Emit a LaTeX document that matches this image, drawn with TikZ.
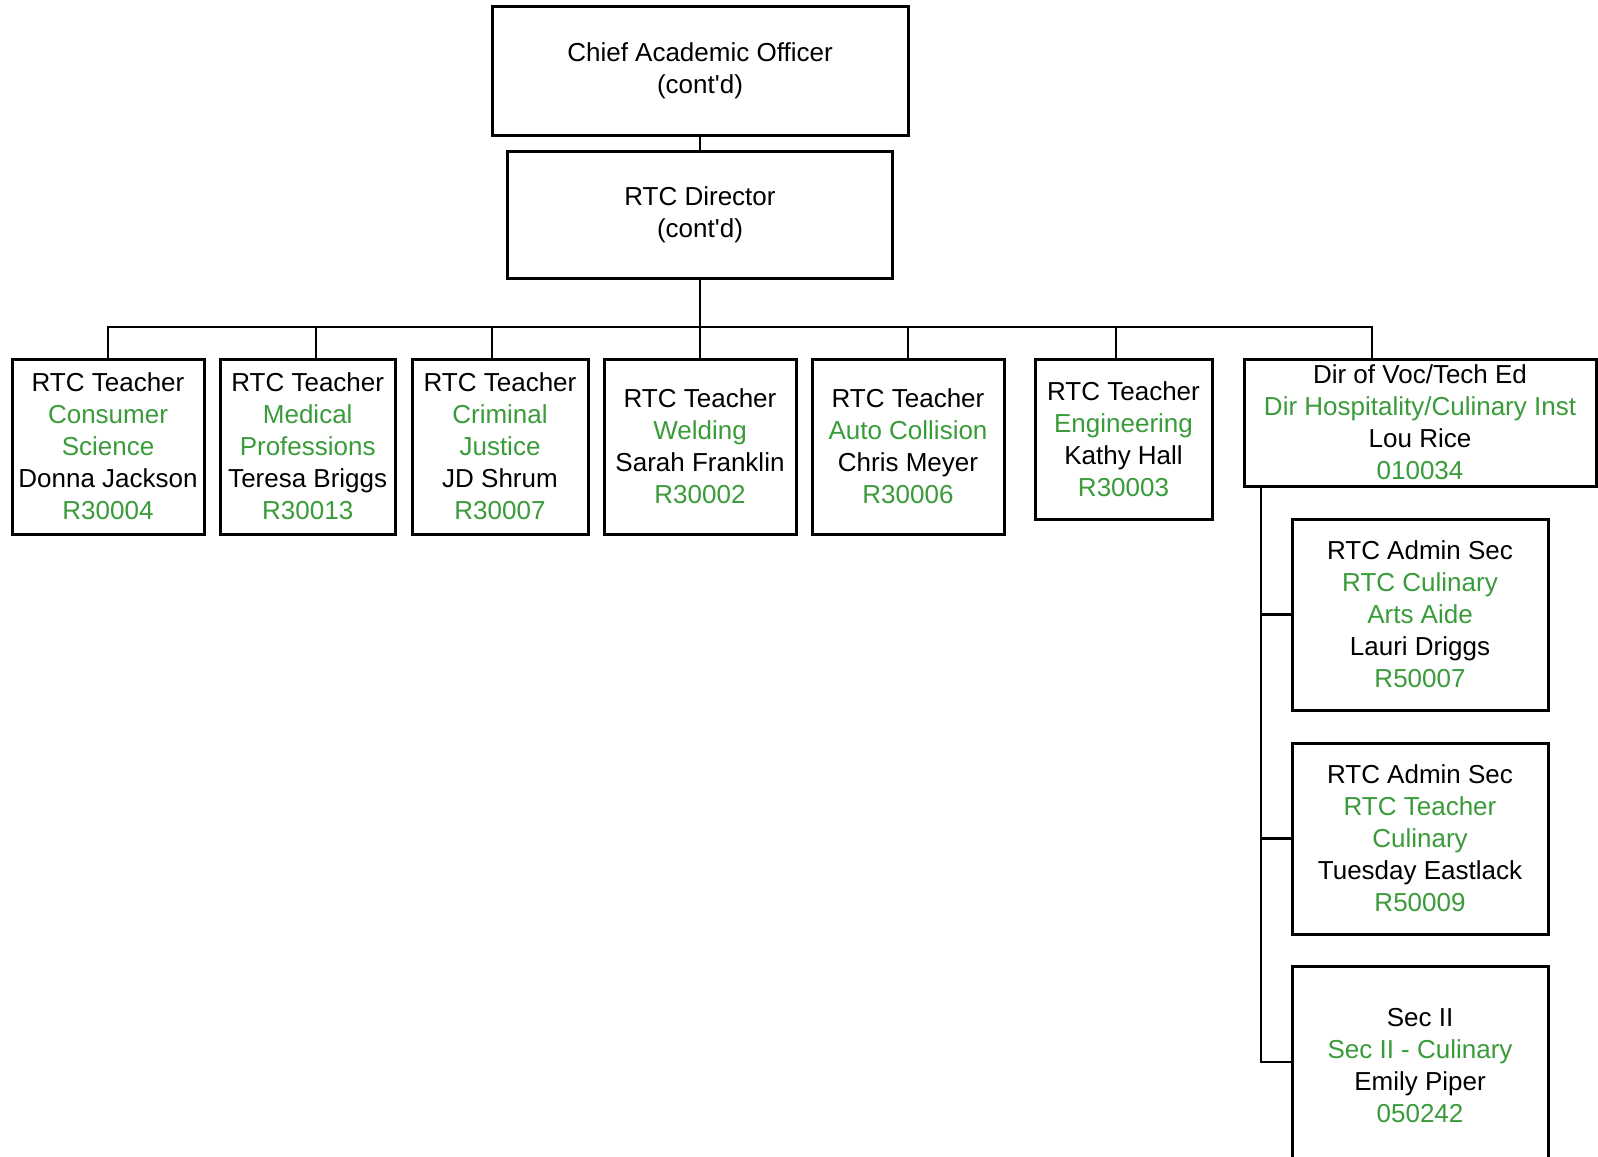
\documentclass[tikz,border=0pt]{standalone}
\usepackage{fontspec}
\setmainfont{Liberation Sans}
\usepackage{xcolor}
\usetikzlibrary{positioning}
\definecolor{rtcgreen}{RGB}{57,155,57}
\newcommand{\grn}[1]{\textcolor{rtcgreen}{#1}}
\newcommand{\contd}{(cont\textquotesingle d)}
\tikzset{
    post/.style={draw, line width=1.5pt, align=center, inner sep=0pt,
        font=\fontsize{13}{16}\selectfont}, % every box of the chart
    teacher/.style={post, minimum height=87.5pt}, % the row under the director
    admin/.style={post, minimum width=128pt, minimum height=95.5pt}, % boxes under Lou Rice
    link/.style={line width=1.2pt}, % the connecting lines
}

\begin{document}
\begin{tikzpicture}[x=0.5pt, y=-0.5pt]
    \useasboundingbox (0,0) rectangle (1598,1156);

    \node[post, minimum width=208pt, minimum height=64pt] (cao) at (700,71) {Chief Academic Officer\\\contd};
    \node[post, minimum width=192.5pt, minimum height=63.5pt] (dir) at (700,214.5) {RTC Director\\\contd};
    \coordinate (bus) at (700,327);

    \node[teacher, minimum width=96pt] (cons) at (108,446.5) {RTC Teacher\\\grn{Consumer}\\\grn{Science}\\Donna Jackson\\\grn{R30004}};
    \node[teacher, minimum width=87.7pt] (med) at (307.7,446.5) {RTC Teacher\\\grn{Medical}\\\grn{Professions}\\Teresa Briggs\\\grn{R30013}};
    \node[teacher, minimum width=88pt] (crim) at (500,446.5) {RTC Teacher\\\grn{Criminal}\\\grn{Justice}\\JD Shrum\\\grn{R30007}};
    \node[teacher, minimum width=96pt] (weld) at (700,446.5) {RTC Teacher\\\grn{Welding}\\Sarah Franklin\\\grn{R30002}};
    \node[teacher, minimum width=96pt] (auto) at (908,446.5) {RTC Teacher\\\grn{Auto Collision}\\Chris Meyer\\\grn{R30006}};
    \node[post, minimum width=88.5pt, minimum height=80pt] (eng) at (1123.5,439) {RTC Teacher\\\grn{Engineering}\\Kathy Hall\\\grn{R30003}};
    \node[post, minimum width=176pt, minimum height=63.5pt] (voc) at (1420,422.5) {Dir of Voc/Tech Ed\\\grn{Dir Hospitality/Culinary Inst}\\Lou Rice\\\grn{010034}};

    \node[admin] (sec1) at (1420,614.5) {RTC Admin Sec\\\grn{RTC Culinary}\\\grn{Arts Aide}\\Lauri Driggs\\\grn{R50007}};
    \node[admin] (sec2) at (1420,838.5) {RTC Admin Sec\\\grn{RTC Teacher}\\\grn{Culinary}\\Tuesday Eastlack\\\grn{R50009}};
    \node[admin, minimum height=100pt] (sec3) at (1420,1066) {Sec II\\\grn{Sec II - Culinary}\\Emily Piper\\\grn{050242}};

    \draw[link] (cao) -- (dir);
    \draw[link] (dir) -- (bus);
    \draw[link] (bus) -| (cons.north);
    \draw[link] (bus) -| ([xshift=4.15pt]med.north);
    \draw[link] (bus) -| ([xshift=-4pt]crim.north);
    \draw[link] (bus) -- (weld.north);
    \draw[link] (bus) -| (auto.north);
    \draw[link] (bus) -| ([xshift=-3.75pt]eng.north);
    \draw[link] (bus) -| ([xshift=-24pt]voc.north);
    \draw[link] ([xshift=-79.5pt]voc.south) |- (sec1.west);
    \draw[link] ([xshift=-79.5pt]voc.south) |- (sec2.west);
    \draw[link] ([xshift=-79.5pt]voc.south) |- ([yshift=2pt]sec3.west);
\end{tikzpicture}
\end{document}
